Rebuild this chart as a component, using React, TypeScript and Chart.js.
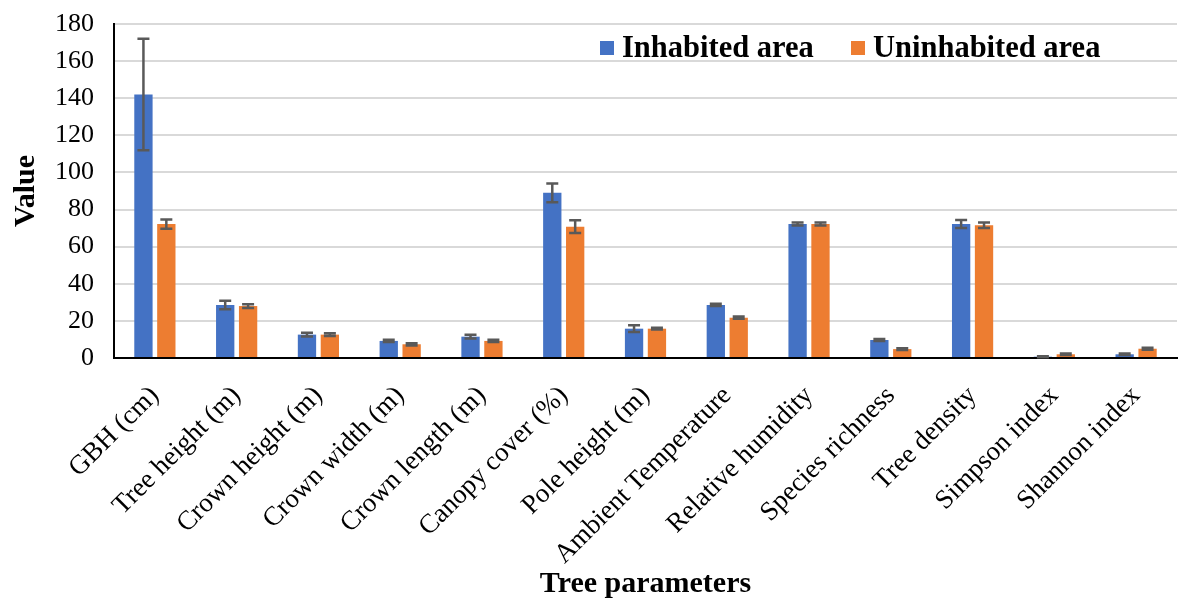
import React, { useEffect, useRef } from "react";
import { Chart, registerables } from "chart.js";

Chart.register(...registerables);

const categories = [
  "GBH (cm)",
  "Tree height (m)",
  "Crown height (m)",
  "Crown width (m)",
  "Crown length (m)",
  "Canopy cover (%)",
  "Pole height (m)",
  "Ambient Temperature",
  "Relative humidity",
  "Species richness",
  "Tree density",
  "Simpson index",
  "Shannon index",
];
const inhabited = [142, 28.6, 12.6, 9.2, 11.5, 89, 15.8, 28.6, 72.2, 9.7, 72.2, 0.7, 2];
const uninhabited = [72.2, 28, 12.6, 7.4, 9.2, 70.8, 15.8, 21.7, 72.2, 4.8, 71.5, 2, 5];
const inhabitedErr = [30, 2.3, 1, 0.6, 1, 5, 1.8, 0.6, 0.8, 0.5, 2.2, 0.3, 0.4];
const uninhabitedErr = [2.5, 1, 0.8, 0.6, 0.6, 3.5, 0.5, 0.6, 0.8, 0.5, 1.5, 0.4, 0.5];
const seriesNames = ["Inhabited area", "Uninhabited area"];
const seriesColors = ["#4472C4", "#ED7D31"];
const errors = [inhabitedErr, uninhabitedErr];

const FONT = "'Liberation Serif', 'Times New Roman', serif";

const errorBarPlugin = {
  id: "errorBars",
  afterDatasetsDraw(chart: any) {
    const ctx = chart.ctx;
    const yScale = chart.scales.y;
    ctx.save();
    ctx.strokeStyle = "#595959";
    ctx.lineWidth = 2.5;
    chart.data.datasets.forEach((ds: any, i: number) => {
      const meta = chart.getDatasetMeta(i);
      meta.data.forEach((bar: any, j: number) => {
        const v = ds.data[j];
        const e = errors[i][j];
        const yt = yScale.getPixelForValue(v + e);
        const yb = yScale.getPixelForValue(v - e);
        const x = bar.x;
        const cw = 6;
        ctx.beginPath();
        ctx.moveTo(x, yt);
        ctx.lineTo(x, yb);
        ctx.moveTo(x - cw, yt);
        ctx.lineTo(x + cw, yt);
        ctx.moveTo(x - cw, yb);
        ctx.lineTo(x + cw, yb);
        ctx.stroke();
      });
    });
    ctx.restore();
  },
};

const legendPlugin = {
  id: "customLegend",
  afterDraw(chart: any) {
    const ctx = chart.ctx;
    ctx.save();
    ctx.font = `bold 30.5px ${FONT}`;
    ctx.textBaseline = "middle";
    const xs = [600, 851];
    const y = 48;
    chart.data.datasets.forEach((ds: any, i: number) => {
      ctx.fillStyle = ds.backgroundColor;
      ctx.fillRect(xs[i], y - 7, 14, 14);
      ctx.fillStyle = "#000";
      ctx.fillText(ds.label, xs[i] + 22, y + 1);
    });
    ctx.restore();
  },
};

export default function App() {
  const ref = useRef<HTMLCanvasElement>(null);
  useEffect(() => {
    if (!ref.current) return;
    const chart = new Chart(ref.current, {
      type: "bar",
      data: {
        labels: categories,
        datasets: [
          { label: seriesNames[0], data: inhabited, backgroundColor: seriesColors[0] },
          { label: seriesNames[1], data: uninhabited, backgroundColor: seriesColors[1] },
        ],
      },
      options: {
        animation: false,
        responsive: false,
        layout: { padding: { top: 24, right: 2, left: 0, bottom: 0 } },
        datasets: { bar: { categoryPercentage: 0.56, barPercentage: 0.8 } },
        plugins: {
          legend: { display: false },
          tooltip: { enabled: false },
        },
        scales: {
          x: {
            grid: { display: false },
            border: { color: "#000", width: 2 },
            ticks: {
              color: "#000",
              font: { family: FONT, size: 27 },
              maxRotation: 45,
              minRotation: 45,
              autoSkip: false,
              padding: 14,
            },
            title: {
              display: true,
              text: "Tree parameters",
              color: "#000",
              font: { family: FONT, size: 30, weight: "bold" },
              padding: { top: 0, bottom: 0 },
            },
            afterFit(scale: any) {
              scale.height = 244;
              scale.paddingTop = 0;
              scale.paddingBottom = 0;
            },
          },
          y: {
            min: 0,
            max: 180,
            grid: { color: "#D9D9D9", lineWidth: 2, drawTicks: false },
            border: { color: "#000", width: 2 },
            ticks: {
              stepSize: 20,
              color: "#000",
              font: { family: FONT, size: 26 },
              padding: 20,
            },
            title: {
              display: true,
              text: "Value",
              color: "#000",
              font: { family: FONT, size: 30, weight: "bold" },
              padding: { top: 8, bottom: 0 },
            },
            afterFit(scale: any) {
              scale.width = 114;
              scale.paddingTop = 0;
              scale.paddingBottom = 0;
            },
          },
        },
      },
      plugins: [errorBarPlugin, legendPlugin],
    });
    return () => chart.destroy();
  }, []);
  return (
    <div style={{ position: "fixed", left: 0, top: 0, width: 1179, height: 602, background: "#fff" }}>
      <canvas ref={ref} width={1179} height={602} />
    </div>
  );
}
